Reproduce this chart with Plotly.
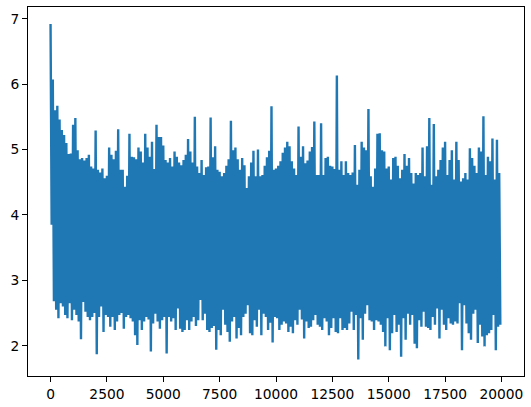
import plotly.graph_objects as go

# Upper envelope (local maxima) per block of 100 steps
hi = [6.92, 6.07, 5.60, 5.67, 5.46, 5.30, 5.22, 5.10, 4.93, 4.94,
      5.38, 5.48, 4.99, 4.85, 4.87, 4.83, 4.87, 4.92, 4.74, 4.71,
      5.29, 4.69, 4.65, 4.71, 4.56, 4.60, 5.03, 4.92, 4.85, 4.98,
      5.31, 4.69, 4.69, 4.43, 4.60, 5.24, 4.89, 4.88, 4.85, 5.03,
      4.97, 4.80, 5.24, 5.03, 4.89, 5.12, 4.70, 5.38, 5.19, 5.19,
      5.06, 4.84, 4.80, 4.87, 4.74, 4.97, 4.89, 4.80, 4.76, 4.84,
      4.92, 5.16, 4.97, 4.80, 5.50, 4.74, 4.64, 4.84, 4.61, 4.73,
      4.74, 5.49, 4.88, 5.05, 4.69, 4.66, 4.59, 4.64, 4.75, 4.85,
      5.44, 4.99, 5.03, 4.85, 4.69, 4.87, 4.76, 4.41, 4.59, 4.80,
      4.98, 4.59, 5.00, 4.59, 4.61, 4.75, 4.88, 4.98, 5.66, 4.69,
      4.71, 4.75, 4.82, 4.95, 5.03, 5.12, 5.05, 4.82, 4.71, 4.61,
      5.35, 4.89, 5.05, 4.79, 4.83, 4.97, 5.04, 5.43, 4.61, 4.61,
      5.40, 4.61, 4.87, 4.89, 4.75, 4.74, 4.70, 6.13, 4.69, 4.82,
      4.61, 4.82, 4.64, 4.61, 4.65, 5.07, 4.46, 4.69, 5.12, 5.03,
      4.99, 5.62, 4.59, 4.43, 4.71, 5.24, 5.25, 4.99, 4.97, 4.71,
      4.74, 4.54, 4.87, 4.89, 4.75, 4.56, 4.69, 4.93, 4.75, 4.87,
      4.64, 4.48, 4.64, 4.61, 4.64, 5.03, 4.59, 5.05, 5.48, 4.46,
      5.39, 4.59, 4.69, 4.84, 5.03, 5.12, 4.61, 4.84, 4.99, 4.54,
      5.12, 4.84, 4.51, 4.56, 4.64, 4.54, 5.02, 4.87, 4.75, 4.64,
      5.03, 4.97, 5.51, 4.61, 4.89, 4.82, 5.17, 4.54, 5.15, 4.64]

# Lower envelope (local minima) per block of 100 steps
lo = [3.85, 2.68, 2.55, 2.42, 2.65, 2.60, 2.47, 2.42, 2.65, 2.39,
      2.55, 2.47, 2.37, 2.10, 2.67, 2.52, 2.44, 2.39, 2.44, 2.50,
      1.87, 2.44, 2.60, 2.21, 2.47, 2.44, 2.29, 2.44, 2.24, 2.37,
      2.47, 2.50, 2.26, 2.44, 2.47, 2.42, 2.37, 2.16, 2.01, 2.39,
      2.24, 2.37, 2.44, 2.40, 1.91, 2.34, 2.49, 2.37, 2.26, 2.39,
      2.44, 1.88, 2.44, 2.37, 2.42, 2.24, 2.57, 2.26, 2.21, 2.24,
      2.39, 2.24, 2.37, 2.44, 2.30, 2.39, 2.70, 2.39, 2.49, 2.24,
      2.21, 2.27, 2.30, 1.94, 2.24, 2.16, 2.55, 2.32, 2.21, 2.06,
      2.37, 2.44, 2.11, 2.27, 2.16, 2.44, 2.49, 2.62, 2.19, 2.16,
      2.39, 2.29, 2.55, 2.16, 2.49, 2.44, 2.24, 2.35, 2.05, 2.44,
      2.42, 2.24, 2.32, 2.37, 2.34, 2.21, 2.29, 2.19, 2.39, 2.32,
      2.55, 2.40, 2.11, 2.37, 2.27, 2.29, 2.39, 2.47, 2.32, 2.29,
      2.24, 2.42, 2.37, 2.16, 2.27, 2.42, 2.21, 2.19, 2.42, 2.24,
      2.27, 2.24, 2.34, 2.52, 2.24, 2.47, 1.79, 2.42, 2.09, 2.49,
      2.62, 2.39, 2.37, 2.24, 2.39, 2.37, 2.32, 2.21, 1.99, 2.42,
      1.93, 2.19, 2.47, 2.21, 2.32, 1.83, 2.42, 2.09, 2.49, 2.32,
      2.47, 2.03, 1.96, 2.39, 2.29, 2.52, 2.29, 2.27, 2.24, 2.44,
      2.32, 2.57, 2.11, 2.55, 2.32, 2.24, 2.42, 2.34, 2.32, 2.37,
      2.34, 2.65, 1.93, 2.62, 2.34, 2.19, 2.09, 2.49, 2.55, 2.04,
      2.32, 2.14, 1.99, 2.16, 2.19, 2.24, 2.47, 1.93, 2.29, 2.32]

block = 100
x_tick_vals = [0, 2500, 5000, 7500, 10000, 12500, 15000, 17500, 20000]
y_tick_vals = [2, 3, 4, 5, 6, 7]

xs, ys = [], []
for i, (h, l) in enumerate(zip(hi, lo)):
    xs += [i * block, i * block + block // 2]
    ys += [h, l]

fig = go.Figure(go.Scatter(x=xs, y=ys, mode="lines",
                           line=dict(color="#1f77b4", width=2.4, simplify=False),
                           hoverinfo="skip"))

axis_common = dict(showline=True, mirror=True, linecolor="black", linewidth=1,
                   ticks="outside", ticklen=5, tickwidth=1, tickcolor="black",
                   showgrid=False, zeroline=False, automargin=False)

fig.update_layout(
    width=531, height=407,
    margin=dict(l=28, r=7, t=7, b=31),
    plot_bgcolor="white", paper_bgcolor="white",
    showlegend=False,
    font=dict(family="DejaVu Sans", size=13.8, color="black"),
    xaxis=dict(range=[-1000, 21000], tickvals=x_tick_vals,
               ticktext=[str(v) for v in x_tick_vals], **axis_common),
    yaxis=dict(range=[1.537, 7.179], tickvals=y_tick_vals,
               ticktext=[str(v) for v in y_tick_vals], **axis_common),
)

fig.write_html("out.html",
               config={"displayModeBar": False, "staticPlot": True},
               post_script="document.body.style.margin='0';document.body.style.overflow='hidden';")
